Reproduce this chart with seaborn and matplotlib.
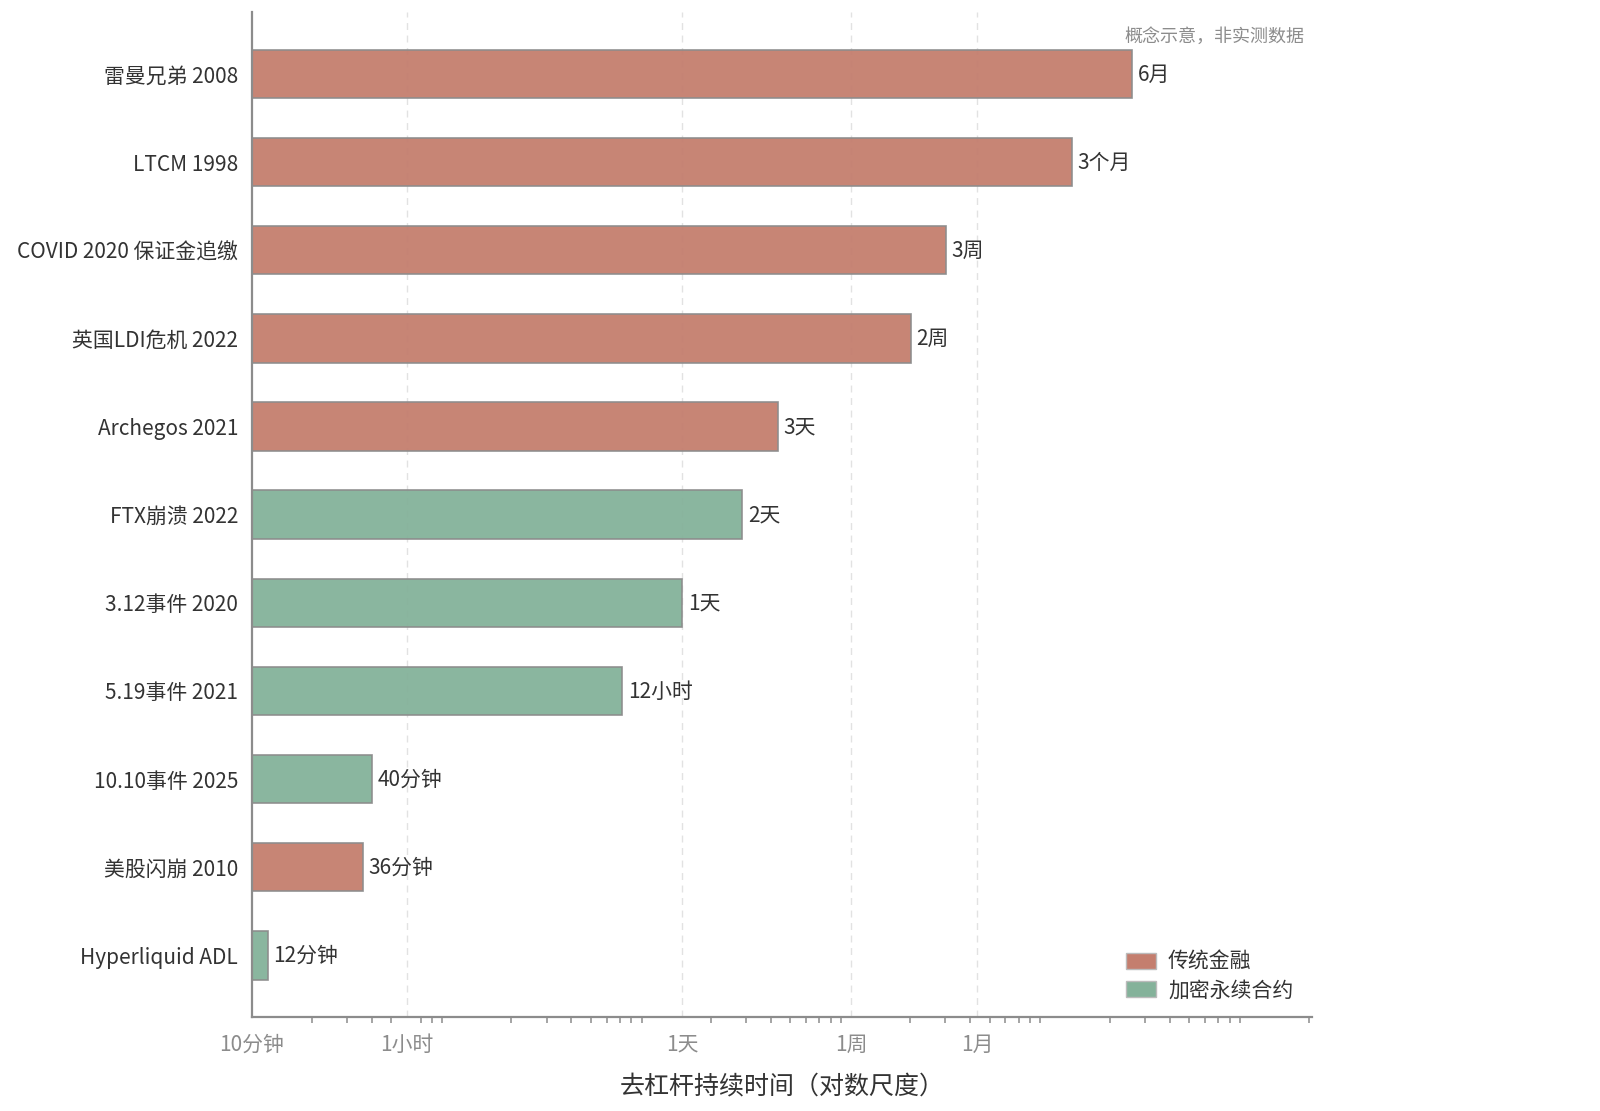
import seaborn as sns
import matplotlib.pyplot as plt
import matplotlib.patches as mpatches
import pandas as pd

# 数据：去杠杆持续时间（分钟）
events = [
    "雷曼兄弟 2008", "LTCM 1998", "COVID 2020 保证金追缴", "英国LDI危机 2022",
    "Archegos 2021", "FTX崩溃 2022", "3.12事件 2020", "5.19事件 2021",
    "10.10事件 2025", "美股闪崩 2010", "Hyperliquid ADL",
]
minutes = [259200, 129600, 30240, 20160, 4320, 2880, 1440, 720, 40, 36, 12]
labels = ["6月", "3个月", "3周", "2周", "3天", "2天", "1天", "12小时", "40分钟", "36分钟", "12分钟"]
kinds = ["传统金融"] * 5 + ["加密永续合约"] * 4 + ["传统金融", "加密永续合约"]

tick_vals = [10, 60, 1440, 10080, 43200, 525600]
tick_labels = ["10分钟", "1小时", "1天", "1周", "1月", ""]

palette = {"传统金融": "#C47E6E", "加密永续合约": "#84B29A"}

df = pd.DataFrame({"事件": events, "分钟": minutes, "类型": kinds})

sns.set_style("white")
plt.rcParams["font.family"] = ["Noto Sans CJK SC", "DejaVu Sans"]

fig = plt.figure(figsize=(16, 11.11), dpi=100)
ax = fig.add_axes([0.1575, 0.0846, 0.6625, 0.9044])

# 网格线（只在主要刻度处）
for t in tick_vals[1:5]:
    ax.axvline(t, color="#e2e2e2", linestyle=(0, (5, 4)), linewidth=1, zorder=0)

sns.barplot(data=df, y="事件", x="分钟", hue="类型", palette=palette, dodge=False,
            width=0.55, saturation=1, edgecolor="#8c8c8c", linewidth=1.2, alpha=0.95,
            legend=False, ax=ax, zorder=2)

ax.set_xscale("log")
ax.set_xlim(10, 2.07e6)
ax.set_ylim(len(events) - 0.3, -0.7)

for i, (v, lab) in enumerate(zip(minutes, labels)):
    ax.annotate(lab, (v, i), xytext=(4, -0.5), textcoords="offset points",
                va="center", ha="left", fontsize=15, color="#333333")

ax.set_xticks(tick_vals, labels=tick_labels)
ax.tick_params(axis="x", which="major", length=7, width=1.3, color="#8c8c8c",
               labelsize=15, labelcolor="#8c8c8c", pad=5)
ax.tick_params(axis="x", which="minor", length=4, width=1.1, color="#8c8c8c", bottom=True)
ax.tick_params(axis="y", length=0, labelsize=15, labelcolor="#333333", pad=10)

ax.set_xlabel("去杠杆持续时间（对数尺度）", fontsize=18, color="#333333", labelpad=13)
ax.set_ylabel("")

for s in ["top", "right"]:
    ax.spines[s].set_visible(False)
for s in ["left", "bottom"]:
    ax.spines[s].set_color("#8c8c8c")
    ax.spines[s].set_linewidth(1.6)
    ax.spines[s].set_zorder(3)

ax.text(0.993, 0.976, "概念示意，非实测数据", transform=ax.transAxes,
        ha="right", va="center", fontsize=13, color="#8c8c8c")

handles = [mpatches.Patch(facecolor=palette[k], edgecolor="#bbbbbb", label=k)
           for k in ["传统金融", "加密永续合约"]]
ax.legend(handles=handles, loc="lower right", bbox_to_anchor=(1.0, -0.003), frameon=False,
          fontsize=15, handlelength=1.4, handleheight=0.8, handletextpad=0.6,
          labelspacing=0.3, labelcolor="#333333")

fig.savefig("out.png", dpi=100)
